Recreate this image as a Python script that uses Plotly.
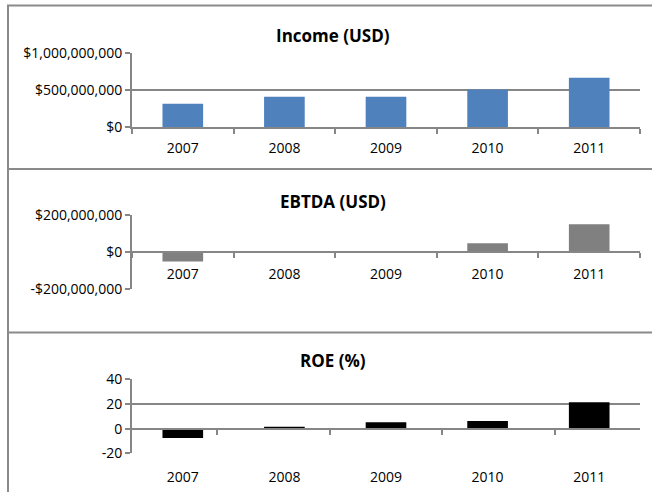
import plotly.graph_objects as go

years = ["2007", "2008", "2009", "2010", "2011"]
income = [315e6, 409e6, 409e6, 507e6, 664e6]
ebtda = [-52e6, 0, 0, 47e6, 150e6]
roe = [-7.6, 1.6, 5.1, 6.2, 21.3]

titles = ["Income (USD)", "EBTDA (USD)", "ROE (%)"]
colors = ["#4F81BD", "#808080", "#000000"]

W, H = 672, 492   # paper is a bit wider than the 652px window; the right edge is cropped like the reference
GRID = "#868686"
FONT = "Open Sans"

def px(pix):
    return pix / W

def py(pix):
    return 1 - pix / H

xdom = [px(132), px(640)]
dom1 = [py(127), py(53)]
dom2 = [py(289), py(215)]
dom3 = [py(453.3), py(379.3)]
rng1 = [0, 1e9]
rng2 = [-2e8, 2e8]
rng3 = [-20, 40]

def zero_pos(dom, rng):
    return dom[0] + (0 - rng[0]) / (rng[1] - rng[0]) * (dom[1] - dom[0])

fig = go.Figure()
fig.add_trace(go.Bar(x=years, y=income, marker_color=colors[0], width=0.4,
                     xaxis="x", yaxis="y", showlegend=False))
fig.add_trace(go.Bar(x=years, y=ebtda, marker_color=colors[1], width=0.4,
                     xaxis="x2", yaxis="y2", showlegend=False))
fig.add_trace(go.Bar(x=years, y=roe, marker_color=colors[2], width=0.4,
                     xaxis="x3", yaxis="y3", showlegend=False))
fig.add_trace(go.Scatter(x=years, y=[0] * 5, mode="markers", marker=dict(opacity=0),
                         xaxis="x4", yaxis="y3", showlegend=False, hoverinfo="skip"))

tickfont = dict(family=FONT, size=14, color="#000000")

common_x = dict(type="category", categoryorder="array", categoryarray=years,
                domain=xdom, showgrid=False, zeroline=False, showline=True,
                linecolor=GRID, linewidth=2, ticks="outside", tickson="boundaries",
                ticklen=5, tickwidth=2, tickcolor=GRID, tickfont=tickfont,
                ticklabelstandoff=7, automargin=False, fixedrange=True)
common_y = dict(showgrid=True, gridcolor=GRID, gridwidth=2, zeroline=False,
                showline=True, linecolor=GRID, linewidth=2, ticks="outside",
                ticklen=5, tickwidth=2, tickcolor=GRID, tickfont=tickfont,
                automargin=False, fixedrange=True)

fig.update_layout(
    template="none",
    width=W, height=H, autosize=False,
    margin=dict(l=0, r=0, t=0, b=0, pad=0),
    paper_bgcolor="white", plot_bgcolor="white",
    bargap=0.6,
    xaxis=dict(common_x, anchor="y"),
    yaxis=dict(common_y, domain=dom1, range=rng1, tickvals=[0, 5e8, 1e9],
               ticktext=["$0", "$500,000,000", "$1,000,000,000"], anchor="x"),
    xaxis2=dict(common_x, anchor="free", position=zero_pos(dom2, rng2), ticklabelstandoff=9),
    yaxis2=dict(common_y, domain=dom2, range=rng2, tickvals=[-2e8, 0, 2e8],
                ticktext=["-$200,000,000", "$0", "$200,000,000"], anchor="x2"),
    xaxis3=dict(common_x, anchor="y3", showline=False, ticks="", ticklabelstandoff=14),
    yaxis3=dict(common_y, domain=dom3, range=rng3, tickvals=[-20, 0, 20, 40],
                ticktext=["-20", "0", "20", "40"], anchor="x3"),
    xaxis4=dict(common_x, overlaying="x3", anchor="free",
                position=zero_pos(dom3, rng3), showticklabels=False),
)

title_y = [35, 201.5, 360]
for t, ty in zip(titles, title_y):
    fig.add_annotation(text="<b>%s</b>" % t, x=px(333), y=py(ty), xref="paper", yref="paper",
                       showarrow=False, xanchor="center", yanchor="middle",
                       font=dict(family=FONT, size=17, color="#000000"))

BORDER = "#8A8A8A"
left_x = px(8)
fig.add_shape(type="line", xref="paper", yref="paper", x0=left_x, x1=left_x,
              y0=0, y1=py(5.5), line=dict(color=BORDER, width=2), layer="below")
for yy in [5.5, 169, 332.5]:
    fig.add_shape(type="line", xref="paper", yref="paper", x0=px(7), x1=1,
                  y0=py(yy), y1=py(yy), line=dict(color=BORDER, width=2), layer="below")

fig.write_html("out.html", config={"displayModeBar": False},
               post_script="document.body.style.margin='0';document.body.style.overflow='hidden';")
